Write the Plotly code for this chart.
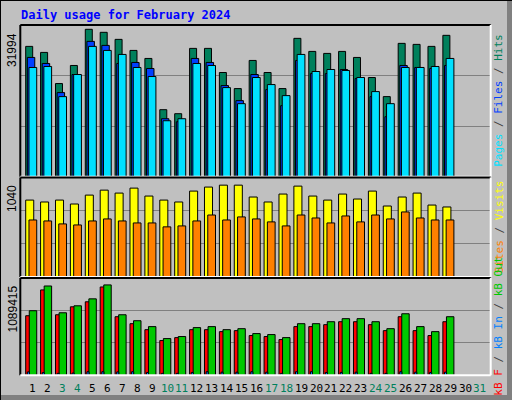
import plotly.graph_objects as go

days = list(range(1, 30))
label_days = list(range(1, 32))
weekend = [3, 4, 10, 11, 17, 18, 24, 25, 31]

hits = [27484, 26212, 19643, 23457, 31085, 30450, 28966, 26636, 24941, 14134, 13286, 27060, 27060, 21974, 18584,
        24517, 21974, 18584, 29179, 26424, 26000, 26424, 25153, 20915, 16889, 28119, 27907, 27484, 29814]
files = [25153, 23881, 17736, 21550, 28543, 27696, 23881, 24093, 22822, 12227, 11591, 24941, 24093, 19219, 16041,
         21550, 18372, 14981, 24517, 21762, 21762, 22610, 20703, 16889, 12651, 23457, 23034, 22822, 23457]
pages = [23034, 23245, 16889, 21550, 27484, 26636, 25788, 23034, 21126, 11803, 12227, 23881, 23457, 18796, 15405,
         20915, 19431, 17100, 25788, 22186, 22610, 22398, 20915, 17948, 15405, 23034, 23034, 23245, 24941]
visits = [804, 784, 804, 763, 856, 908, 877, 929, 846, 804, 784, 898, 940, 960, 960,
          836, 784, 867, 950, 846, 804, 867, 815, 898, 742, 836, 877, 752, 732]
sites = [596, 586, 555, 544, 586, 607, 586, 565, 565, 524, 534, 586, 648, 596, 628,
         607, 576, 534, 648, 617, 565, 638, 576, 648, 607, 680, 617, 596, 596]
kb_f = [667000, 956000, 678000, 767000, 823000, 989000, 656000, 578000, 511000, 389000, 422000, 511000, 511000,
        489000, 500000, 445000, 434000, 400000, 545000, 545000, 567000, 600000, 600000, 567000, 500000, 656000,
        500000, 445000, 600000]
kb_out = [723000, 1000000, 700000, 778000, 856000, 1012000, 678000, 611000, 545000, 411000, 434000, 534000, 545000,
          511000, 522000, 467000, 456000, 422000, 578000, 578000, 600000, 634000, 634000, 600000, 522000, 689000,
          545000, 489000, 656000]
kb_in = [38000, 30000, 22000, 25000, 40000, 40000, 38000, 40000, 32000, 22000, 22000, 32000, 40000, 35000, 35000,
         40000, 35000, 22000, 40000, 40000, 32000, 32000, 35000, 22000, 22000, 40000, 35000, 32000, 35000]
max_hits, max_visits, max_kb = 31994, 1040, 1089415

W, H = 512, 400
def py(p):
    return 1 - p / H
def px(p):
    return p / W

fig = go.Figure()
def bar(y, color, off, wid, xa, ya):
    fig.add_trace(go.Bar(x=days, y=y, marker=dict(color=color, line=dict(color="black", width=1)),
                         offset=off, width=wid, xaxis=xa, yaxis=ya, hoverinfo="skip"))

bar(hits, "#00805c", -0.49, 0.47, "x", "y")
bar(files, "#0040ff", -0.38, 0.50, "x", "y")
bar(pages, "#00e0ff", -0.27, 0.52, "x", "y")
bar(visits, "#ffff00", -0.49, 0.54, "x2", "y2")
bar(sites, "#ff8000", -0.27, 0.52, "x2", "y2")
bar(kb_f, "#ff0000", -0.49, 0.50, "x3", "y3")
bar(kb_out, "#00c800", -0.25, 0.50, "x3", "y3")
bar(kb_in, "#0080ff", -0.38, 0.14, "x3", "y3")

xr = [0.148, 31.72]
xdom = [px(20.3), px(490.7)]
panels = [(25, 176.7, max_hits), (177.5, 277, max_visits), (278, 375.3, max_kb)]
lay = dict(width=W, height=H, margin=dict(l=0, r=0, t=0, b=0), paper_bgcolor="#c0c0c0",
           plot_bgcolor="#c0c0c0", barmode="overlay", showlegend=False)
for i, (top, bot, mx) in enumerate(panels, start=1):
    s = "" if i == 1 else str(i)
    lay["xaxis" + s] = dict(domain=xdom, range=xr, showticklabels=False, showgrid=False, zeroline=False,
                            fixedrange=True, anchor="y" + s)
    lay["yaxis" + s] = dict(domain=[py(bot), py(top)], range=[0, mx], tickvals=[mx / 3, 2 * mx / 3],
                            showticklabels=False, gridcolor="#808080", gridwidth=1, zeroline=False,
                            anchor="x" + s)
fig.update_layout(**lay)

shapes = []
def line(x0, y0, x1, y1, c, w=1):
    shapes.append(dict(type="line", xref="paper", yref="paper", x0=px(x0), y0=py(y0), x1=px(x1), y1=py(y1),
                       line=dict(color=c, width=w)))
for top, bot, mx in panels:
    line(20.3, top, 490.7, top, "black", 2)
    line(20.3, top, 20.3, bot, "black", 2)
    line(490.7, top, 490.7, bot, "white", 2)
    line(20.3, bot, 490.7, bot, "white", 2)
line(0, 0.5, 512, 0.5, "black", 1)
line(0.5, 0, 0.5, 400, "black", 1)
shapes.append(dict(type="rect", xref="paper", yref="paper", x0=px(507), x1=1, y0=0, y1=1, layer="below",
                   fillcolor="#808080", line=dict(width=0)))
shapes.append(dict(type="rect", xref="paper", yref="paper", x0=0, x1=1, y0=0, y1=py(395), layer="below",
                   fillcolor="#808080", line=dict(width=0)))
fig.update_layout(shapes=shapes)

ann = []
ann.append(dict(text="<b>Daily usage for February 2024</b>", x=px(19), y=py(15), xref="paper", yref="paper",
                xanchor="left", yanchor="middle", showarrow=False,
                font=dict(family="DejaVu Sans Mono", size=12, color="#0000ff")))
mono = "DejaVu Sans Mono"
for (top, bot, mx), lbl in zip(panels, ["31994", "1040", "1089415"]):
    ann.append(dict(text=lbl, x=px(12), y=py(top + 6), xref="paper", yref="paper", textangle=-90,
                    xanchor="center", yanchor="top", showarrow=False,
                    font=dict(family="Liberation Sans", size=12, color="black")))
def sp(t, c):
    return f"<span style='color:{c}'>{t}</span>"
sl = sp(" / ", "#404040")
rights = [sp("Pages", "#00e0ff") + sl + sp("Files", "#0040ff") + sl + sp("Hits", "#00805c"),
          sp("Sites", "#ff8000") + sl + sp("Visits", "#ffff00"),
          sp("kB F", "#ff0000") + sl + sp("kB In", "#0080ff") + sl + sp("kB Out", "#00c800")]
for (top, bot, mx), t in zip(panels, rights):
    ann.append(dict(text=t, x=px(499), y=py((top + bot) / 2), xref="paper", yref="paper", textangle=-90,
                    xanchor="center", yanchor="middle", showarrow=False,
                    font=dict(family=mono, size=11, color="black")))
for d in label_days:
    ann.append(dict(text=str(d), x=d, y=py(388), xref="x3", yref="paper", xanchor="center", yanchor="middle",
                    showarrow=False,
                    font=dict(family=mono, size=11, color="#00805c" if d in weekend else "black")))
fig.update_layout(annotations=ann)
fig.write_html("out.html", config={"displayModeBar": False},
               post_script="document.body.style.margin='0';document.body.style.overflow='hidden';")
